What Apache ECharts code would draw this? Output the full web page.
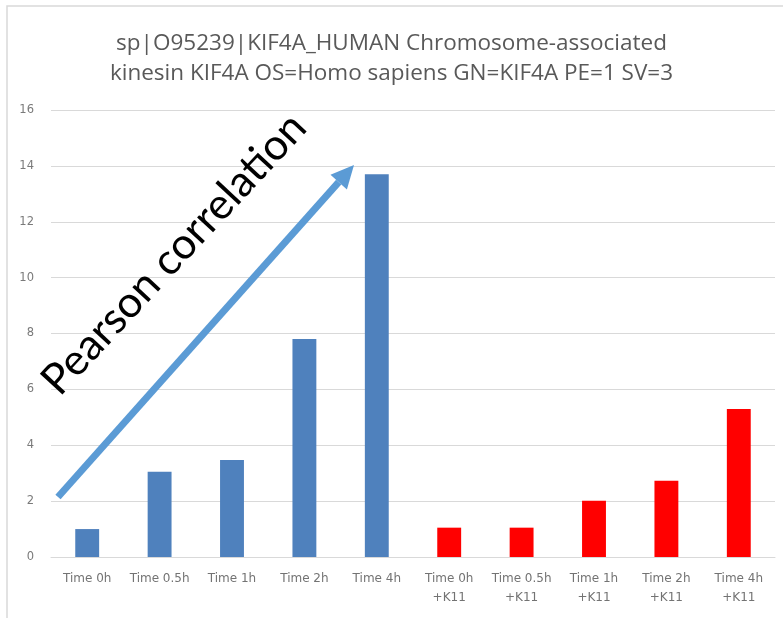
<!DOCTYPE html>
<html>
<head>
<meta charset="utf-8">
<script src="https://cdn.jsdelivr.net/npm/echarts@6/dist/echarts.min.js"></script>
<style>
  html, body { margin: 0; padding: 0; background: #ffffff; }
  #chart { width: 783px; height: 618px; }
</style>
</head>
<body>
<div id="chart"></div>
<script>
// Time-course categories, without and with K11
const categories = [
  'Time 0h', 'Time 0.5h', 'Time 1h', 'Time 2h', 'Time 4h',
  'Time 0h\n+K11', 'Time 0.5h\n+K11', 'Time 1h\n+K11', 'Time 2h\n+K11', 'Time 4h\n+K11'
];
// Relative abundance per time point
const controlValues = [1.0, 3.05, 3.47, 7.8, 13.7];
const k11Values = [1.05, 1.05, 2.01, 2.73, 5.3];
const yTicks = [0, 2, 4, 6, 8, 10, 12, 14, 16];

const titleLines = [
  'sp|O95239|KIF4A_HUMAN Chromosome-associated',
  'kinesin KIF4A OS=Homo sapiens GN=KIF4A PE=1 SV=3'
];

const BLUE = '#4F81BD';
const RED = '#FF0000';
const ARROW = '#5B9BD5';

const barData = controlValues.map(v => ({ value: v, itemStyle: { color: BLUE } }))
  .concat(k11Values.map(v => ({ value: v, itemStyle: { color: RED } })));

const chart = echarts.init(document.getElementById('chart'), null, { renderer: 'canvas' });

// Trend arrow geometry (pixel space annotation)
const tail = [58, 497];
const tip = [354, 165];
const dx = tip[0] - tail[0], dy = tip[1] - tail[1];
const len = Math.hypot(dx, dy);
const ux = dx / len, uy = dy / len;
const headLen = 23, headHalf = 11;
const base = [tip[0] - ux * headLen, tip[1] - uy * headLen];
const px = -uy, py = ux;
const angle = Math.atan2(-dy, dx);

chart.setOption({
  animation: false,
  title: {
    text: titleLines.join('\n'),
    left: 'center',
    top: 24,
    textStyle: {
      fontFamily: 'Open Sans',
      fontSize: 22.5,
      fontWeight: 'normal',
      color: '#595959',
      lineHeight: 30
    }
  },
  grid: { left: 51, right: 8, top: 110, bottom: 61, containLabel: false },
  xAxis: {
    type: 'category',
    data: categories,
    axisLine: { lineStyle: { color: '#d9d9d9', width: 1 } },
    axisTick: { show: false },
    axisLabel: {
      interval: 0,
      margin: 12,
      fontFamily: 'DejaVu Sans',
      fontSize: 12,
      lineHeight: 19,
      color: '#737373'
    }
  },
  yAxis: {
    type: 'value',
    min: yTicks[0],
    max: yTicks[yTicks.length - 1],
    interval: 2,
    axisLine: { show: false },
    axisTick: { show: false },
    splitLine: { lineStyle: { color: '#d9d9d9', width: 1 } },
    axisLabel: {
      margin: 17,
      fontFamily: 'DejaVu Sans',
      fontSize: 11.5,
      color: '#7a7a7a'
    }
  },
  series: [{
    type: 'bar',
    data: barData,
    barWidth: '33%'
  }],
  graphic: [
    {
      type: 'rect',
      shape: { x: 7, y: 6, width: 820, height: 700 },
      style: { fill: 'none', stroke: '#d9d9d9', lineWidth: 1.5 },
      silent: true
    },
    {
      type: 'line',
      shape: { x1: tail[0], y1: tail[1], x2: base[0], y2: base[1] },
      style: { stroke: ARROW, lineWidth: 7 },
      z: 10
    },
    {
      type: 'polygon',
      shape: {
        points: [
          tip,
          [base[0] + px * headHalf, base[1] + py * headHalf],
          [base[0] - px * headHalf, base[1] - py * headHalf]
        ]
      },
      style: { fill: ARROW },
      z: 10
    },
    {
      type: 'text',
      x: 174,
      y: 254,
      rotation: angle - 0.02,
      style: {
        text: 'Pearson correlation',
        fontFamily: 'Lato',
        fontSize: 43,
        fill: '#000000',
        textAlign: 'center',
        textVerticalAlign: 'middle'
      },
      z: 11
    }
  ]
});
</script>
</body>
</html>
